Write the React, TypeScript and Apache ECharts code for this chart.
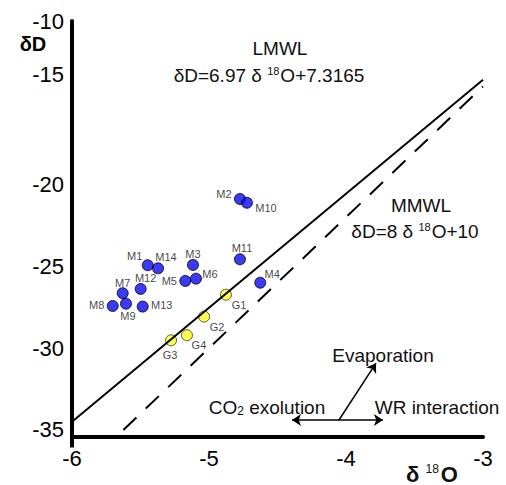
import React, { useEffect, useRef } from 'react';
import * as echarts from 'echarts';

const FONT = '"Liberation Sans", Arial, Helvetica, sans-serif';

// Sample data (δ18O, δD)
const mNames = ['M1', 'M2', 'M3', 'M4', 'M5', 'M6', 'M7', 'M8', 'M9', 'M10', 'M11', 'M12', 'M13', 'M14'];
const mX = [-5.447, -4.774, -5.117, -4.626, -5.173, -5.095, -5.63, -5.703, -5.606, -4.723, -4.774, -5.499, -5.484, -5.372];
const mY = [-24.93, -20.88, -24.91, -26.0, -25.89, -25.75, -26.64, -27.42, -27.28, -21.11, -24.57, -26.38, -27.46, -25.12];

const gNames = ['G1', 'G2', 'G3', 'G4'];
const gX = [-4.876, -5.036, -5.277, -5.161];
const gY = [-26.73, -28.07, -29.52, -29.21];

// Meteoric water lines (end points)
const lmwlX = [-6, -3];
const lmwlY = [-34.5, -13.59];
const mmwlX = [-5.625, -3];
const mmwlY = [-35, -14];

// Axis ticks
const xTicks = [-6, -5, -4, -3];
const yTicks = [-35, -30, -25, -20, -15, -10];

// Process arrows (origin and heads, data coordinates)
const arrowOrigin = [-4.051, -34.39];
const arrowHeads = [
  [-4.394, -34.39],
  [-3.73, -34.39],
  [-3.781, -30.92],
];

// label offsets (style)
const mLabelOffset: Record<string, [number, number]> = {
  M1: [-13, -9], M2: [-16, -5], M3: [0, -11], M4: [12, -9], M5: [-16, 0], M6: [14, -5],
  M7: [0, -10], M8: [-16, -1], M9: [2, 12], M10: [19, 5], M11: [2, -11], M12: [5, -11],
  M13: [19, -2], M14: [8, -11],
};
const gLabelOffset: Record<string, [number, number]> = {
  G1: [13, 10], G2: [13, 10], G3: [-1, 15], G4: [12, 10],
};

export default function App() {
  const ref = useRef<HTMLDivElement>(null);
  useEffect(() => {
    if (!ref.current) return;
    const chart = echarts.init(ref.current, undefined, { renderer: 'svg' });
    const labelStyle = { show: true, position: 'inside' as const, fontSize: 11, color: '#111', fontFamily: FONT };
    const textStyle = (fs: number, extra: any = {}) => ({
      fontSize: fs, fontFamily: FONT, fill: '#111', align: 'center', verticalAlign: 'middle',
      textAlign: 'center', textVerticalAlign: 'middle', ...extra,
    });
    const supRich = (fs: number) => ({
      a: { fontSize: fs, fontFamily: FONT, color: '#111' },
      s: { fontSize: Math.round(fs * 0.6), fontFamily: FONT, color: '#111', verticalAlign: 'top', padding: [0, 1, 0, 0] },
    });
    chart.setOption({
      animation: false,
      grid: { left: 72, right: 23, top: 21, bottom: 48.5, containLabel: false },
      xAxis: {
        type: 'value', min: -6, max: -3, interval: 1,
        axisLine: { show: true, onZero: false, lineStyle: { color: '#000', width: 4 } },
        axisTick: { show: true, customValues: [-6], length: 11, lineStyle: { color: '#000', width: 4 } },
        splitLine: { show: false },
        axisLabel: { customValues: xTicks, fontSize: 22, color: '#000', fontFamily: FONT, margin: 11 },
      },
      yAxis: {
        type: 'value', min: -35.4, max: -10,
        axisLine: { show: true, onZero: false, lineStyle: { color: '#000', width: 4 } },
        axisTick: { show: false },
        splitLine: { show: false },
        axisLabel: {
          customValues: yTicks, fontSize: 22, color: '#000', fontFamily: FONT, margin: 8,
          formatter: (v: number) => (v === -15 ? '{up|' + v + '}' : '{n|' + v + '}'),
          rich: {
            n: { fontSize: 22, fontFamily: FONT, color: '#000' },
            up: { fontSize: 22, fontFamily: FONT, color: '#000', padding: [0, 0, 56, 0] },
          },
        },
      },
      series: [
        {
          type: 'line', name: 'LMWL', symbol: 'none', silent: true,
          data: lmwlX.map((x, i) => [x, lmwlY[i]]),
          lineStyle: { color: '#000', width: 2 },
        },
        {
          type: 'line', name: 'MMWL', symbol: 'none', silent: true,
          data: mmwlX.map((x, i) => [x, mmwlY[i]]),
          lineStyle: { color: '#000', width: 2, type: [18, 13] },
        },
        {
          type: 'scatter', name: 'M', symbolSize: 11,
          itemStyle: { color: '#0a0af2', borderColor: '#000', borderWidth: 1 },
          data: mNames.map((n, i) => ({
            name: n, value: [mX[i], mY[i]],
            label: { ...labelStyle, formatter: n, offset: mLabelOffset[n] },
          })),
        },
        {
          type: 'scatter', name: 'G', symbolSize: 11,
          itemStyle: { color: '#ffff22', borderColor: '#333', borderWidth: 1 },
          data: gNames.map((n, i) => ({
            name: n, value: [gX[i], gY[i]],
            label: { ...labelStyle, formatter: n, offset: gLabelOffset[n] },
          })),
        },
        {
          type: 'scatter', name: 'arrows', data: [[arrowOrigin[0], arrowOrigin[1]]], symbolSize: 0, silent: true,
          markLine: {
            silent: true, animation: false,
            symbol: ['none', 'arrow'], symbolSize: 9,
            label: { show: false },
            lineStyle: { color: '#000', width: 1.5, type: 'solid' },
            emphasis: { disabled: true },
            data: arrowHeads.map((h) => [
              { coord: arrowOrigin, symbol: 'none' },
              { coord: h, symbol: 'arrow', symbolSize: 9 },
            ]),
          },
        },
      ],
      graphic: [
        { type: 'text', x: 33, y: 44, style: textStyle(20, { text: 'δD', fontWeight: 'bold', fill: '#000' }) },
        { type: 'text', x: 280, y: 48, style: textStyle(19, { text: 'LMWL' }) },
        {
          type: 'text', x: 269, y: 75,
          style: textStyle(19, { text: '{a|δD=6.97 δ }{s|18}{a|O+7.3165}', rich: supRich(19) }),
        },
        { type: 'text', x: 421, y: 205, style: textStyle(19, { text: 'MMWL' }) },
        {
          type: 'text', x: 415, y: 231,
          style: textStyle(19, { text: '{a|δD=8 δ }{s|18}{a|O+10}', rich: supRich(19) }),
        },
        { type: 'text', x: 383, y: 355, style: textStyle(19, { text: 'Evaporation' }) },
        {
          type: 'text', x: 267, y: 407,
          style: textStyle(19, {
            text: '{a|CO}{b|2}{a| exolution}',
            rich: {
              a: { fontSize: 19, fontFamily: FONT, color: '#111' },
              b: { fontSize: 12, fontFamily: FONT, color: '#111', verticalAlign: 'bottom', padding: [8, 0, 0, 0] },
            },
          }),
        },
        { type: 'text', x: 437, y: 407, style: textStyle(19, { text: 'WR interaction' }) },
        {
          type: 'text', x: 432, y: 474,
          style: textStyle(22, {
            text: '{a|δ }{s|18}{a|O}',
            rich: {
              a: { fontSize: 22, fontWeight: 'bold', fontFamily: FONT, color: '#000' },
              s: { fontSize: 12, fontFamily: FONT, color: '#000', verticalAlign: 'top', padding: [0, 2, 0, 0] },
            },
          }),
        },
      ],
    });
    return () => chart.dispose();
  }, []);
  return <div ref={ref} style={{ width: 506, height: 485, position: 'absolute', left: 0, top: 0 }} />;
}
